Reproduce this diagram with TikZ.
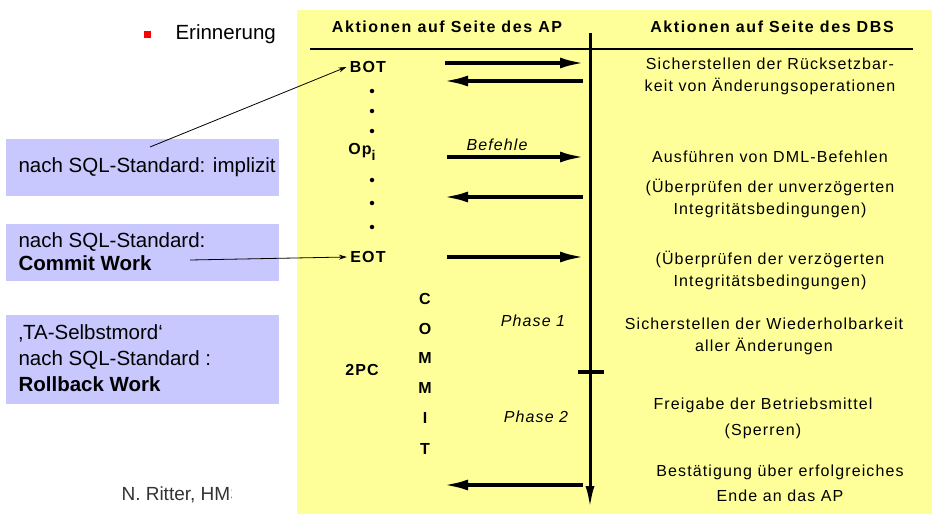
\documentclass[tikz,border=0pt]{standalone}
\usepackage{fontspec}
\setmainfont{Liberation Sans}
\newfontfamily\spaced[LetterSpace=7]{Liberation Sans}
\newfontfamily\wide[LetterSpace=10]{Liberation Sans}
\usetikzlibrary{arrows.meta}
\definecolor{panel}{HTML}{FFFF99}
\definecolor{note}{HTML}{C8C8FF}
\definecolor{bullet}{HTML}{FF0000}
\definecolor{foot}{HTML}{333333}

\tikzset{
  msg/.style={line width=3.4pt, -{Latex[length=24pt,width=11pt]}},
  pointer/.style={line width=0.8pt, -{Stealth[length=8pt,width=5pt]}},
  head/.style={font=\wide\fontsize{16}{18}\selectfont\bfseries},
  desc/.style={font=\spaced\fontsize{16}{22}\selectfont, align=center},
  apmark/.style={font=\spaced\fontsize{16}{17}\selectfont\bfseries},
  dot/.style={circle, fill=black, inner sep=0pt, minimum size=4.5pt},
  phase/.style={font=\spaced\fontsize{16}{18}\selectfont\itshape},
  notebox/.style={fill=note, anchor=north west, minimum width=273pt, inner sep=0pt},
  notetext/.style={font=\fontsize{20.5}{26}\selectfont, align=left, anchor=west}
}

\begin{document}
\begin{tikzpicture}[x=1pt,y=-1pt]
\useasboundingbox (0,0) rectangle (932,514);

% yellow panel
\fill[panel] (297,10) rectangle (932,514);

% bullet line
\fill[bullet] (144,31) rectangle (151,38);
\node[font=\fontsize{20.5}{22}\selectfont, anchor=west] (rem) at (172,34) {Erinnerung};

% column headers
\node[head] (hap) at (447,27) {Aktionen auf Seite des AP};
\node[head] (hdb) at (772,27) {Aktionen auf Seite des DBS};
\coordinate (hl) at (310,49);
\coordinate (hr) at (913,49);
\draw[line width=2.2pt] (hl) -- (hr);

% time line of the DBS
\coordinate (ttop) at (590,33);
\coordinate (tbot) at (590,508);
\draw[line width=3pt, -{Latex[length=22pt,width=9pt]}] (ttop) -- (tbot);
\coordinate (tl) at (578,372);
\coordinate (tr) at (604,372);
\draw[line width=3.5pt] (tl) -- (tr);

% AP side
\node[apmark] (bot) at (368,67) {BOT};
\node[dot] (d1) at (372,91) {};
\node[dot] (d2) at (372,111) {};
\node[dot] (d3) at (372,131) {};
\node[apmark] (op) at (362,152) {Op\raisebox{-6pt}{\fontsize{14}{15}\selectfont i}};
\node[dot] (d4) at (372,180) {};
\node[dot] (d5) at (372,203) {};
\node[dot] (d6) at (372,227) {};
\node[apmark] (eot) at (368,257) {EOT};
\node[apmark] (tpc) at (362,370) {2PC};
\foreach \l/\y [count=\i] in {C/299,O/329,M/358,M/388,I/418,T/449}
  \node[apmark] (c\i) at (425,\y) {\l};
\node[phase] (befehle) at (497,145) {Befehle};
\node[phase] (ph1) at (533,321) {Phase 1};
\node[phase] (ph2) at (536,417) {Phase 2};

% messages between AP and DBS
\coordinate (a1s) at (445,63);  \coordinate (a1e) at (584,63);
\coordinate (a2s) at (583,81);  \coordinate (a2e) at (444,81);
\coordinate (a3s) at (447,157); \coordinate (a3e) at (584,157);
\coordinate (a4s) at (583,197); \coordinate (a4e) at (444,197);
\coordinate (a5s) at (447,257); \coordinate (a5e) at (584,257);
\coordinate (a6s) at (583,485); \coordinate (a6e) at (444,485);
\draw[msg] (a1s) -- (a1e);
\draw[msg] (a2s) -- (a2e);
\draw[msg] (a3s) -- (a3e);
\draw[msg] (a4s) -- (a4e);
\draw[msg] (a5s) -- (a5e);
\draw[msg] (a6s) -- (a6e);

% DBS side
\node[desc] (r1) at (770,76) {Sicherstellen der R\"ucksetzbar-\\keit von \"Anderungsoperationen};
\node[desc] (r2) at (770,157) {Ausf\"uhren von DML-Befehlen};
\node[desc] (r3) at (770,198) {(\"Uberpr\"ufen der unverz\"ogerten\\Integrit\"atsbedingungen)};
\node[desc] (r4) at (770,270) {(\"Uberpr\"ufen der verz\"ogerten\\Integrit\"atsbedingungen)};
\node[desc] (r5) at (764,336) {Sicherstellen der Wiederholbarkeit\\aller \"Anderungen};
\node[desc, font=\spaced\fontsize{16}{26}\selectfont] (r6) at (763,418) {Freigabe der Betriebsmittel\\(Sperren)};
\node[desc, font=\spaced\fontsize{16}{25}\selectfont] (r7) at (780,483) {Best\"atigung \"uber erfolgreiches\\Ende an das AP};

% notes on the left
\node[notebox, minimum height=57pt] (n1) at (6,139) {};
\node[notetext] (n1t) at (15,167) {nach SQL-Standard: implizit};
\node[notebox, minimum height=57pt] (n2) at (6,224) {};
\node[notetext, font=\fontsize{20.5}{23}\selectfont] (n2t) at (15,252) {nach SQL-Standard:\\\textbf{Commit Work}};
\node[notebox, minimum height=89pt] (n3) at (6,315) {};
\node[notetext] (n3t) at (15,358) {‚TA-Selbstmord‘\\nach SQL-Standard :\\\textbf{Rollback Work}};

\coordinate (p1) at (150,147);
\coordinate (p2) at (190,260);
\draw[pointer] (p1) -- (bot.west);
\draw[pointer] (p2) -- (eot.west);

% footer
\begin{scope}
\clip (100,480) rectangle (231,510);
\node[font=\fontsize{19}{21}\selectfont, text=foot, anchor=west] (ft) at (118,495) {N. Ritter, HMS};
\end{scope}
\end{tikzpicture}
\end{document}
